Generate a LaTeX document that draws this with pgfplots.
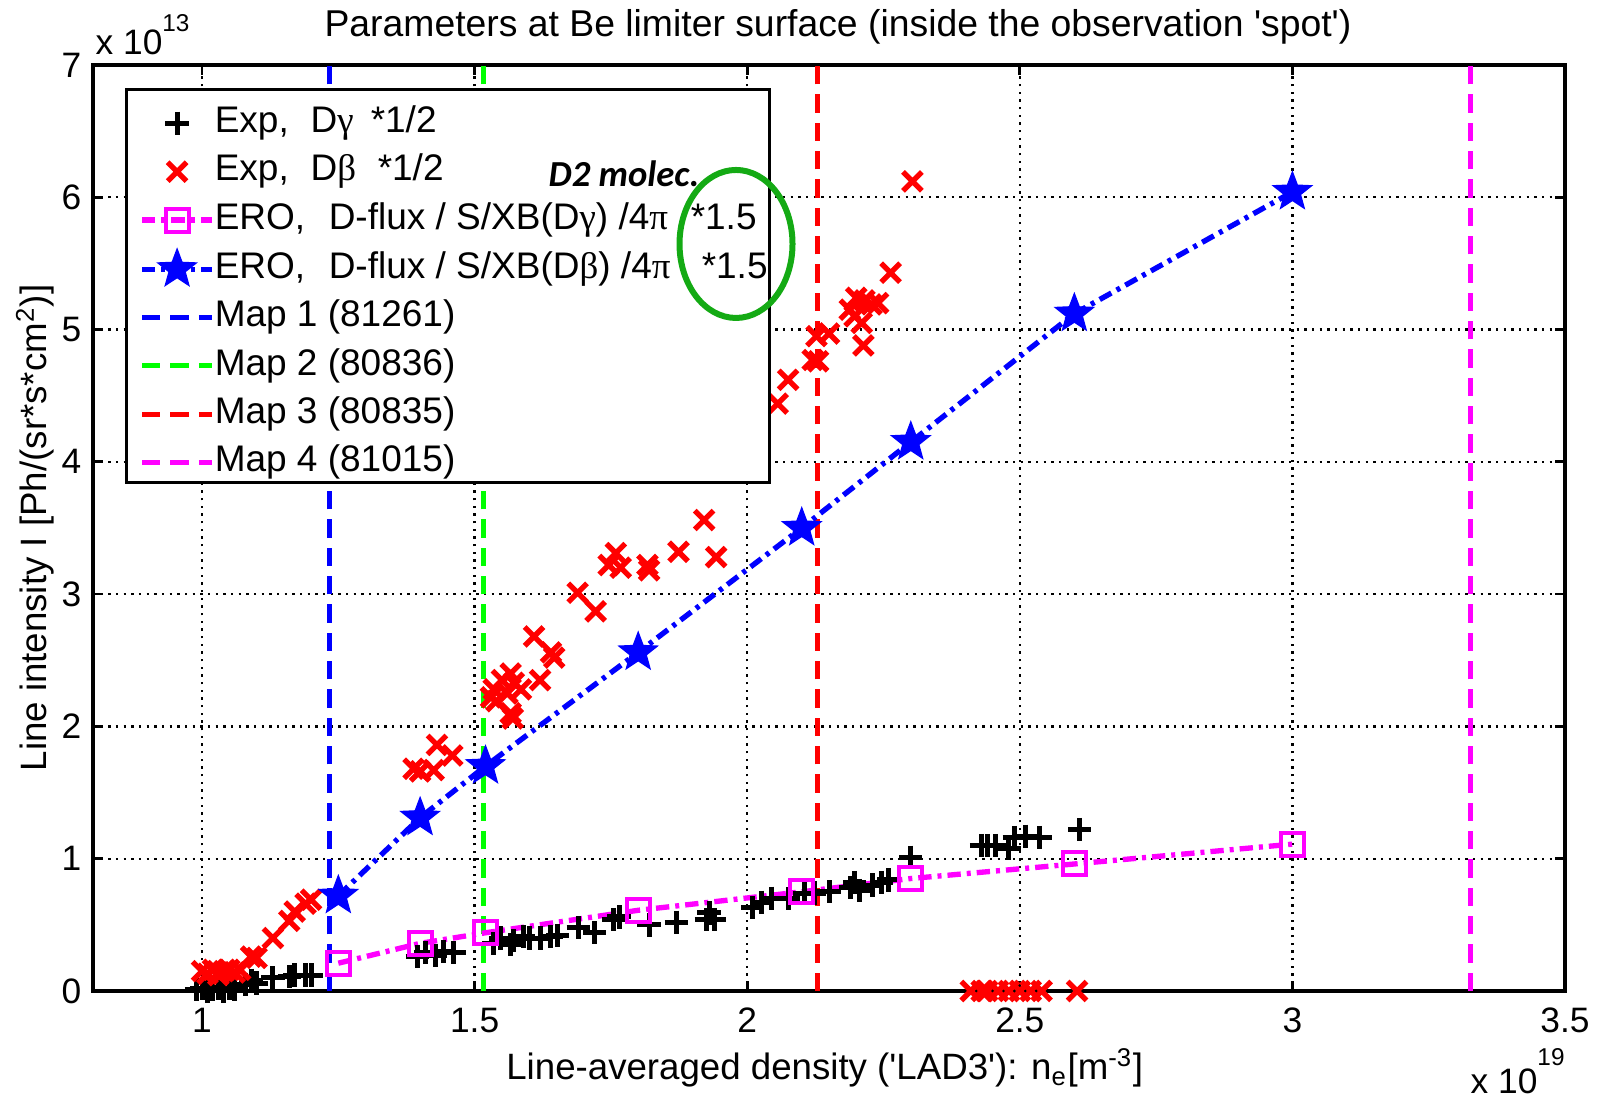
\documentclass[border=0pt]{standalone}
\usepackage{fontspec}
\setmainfont{Liberation Sans}
\newfontfamily\grk{Liberation Serif}
\newfontfamily\carl{Carlito}
\usepackage{pgfplots}
\pgfplotsset{compat=1.18}
\usepackage{pgfplotstable}
\usetikzlibrary{calc}

\definecolor{mapblue}{RGB}{0,0,255}
\definecolor{mapgreen}{RGB}{0,255,0}
\definecolor{mapred}{RGB}{255,0,0}
\definecolor{mapmag}{RGB}{255,0,255}
\definecolor{ringgreen}{RGB}{20,170,20}

% filled five-pointed star marker
\pgfdeclareplotmark{pentastar}{%
  \pgfpathmoveto{\pgfpointpolar{90}{\pgfplotmarksize}}%
  \pgfpathlineto{\pgfpointpolar{126}{0.42\pgfplotmarksize}}%
  \pgfpathlineto{\pgfpointpolar{162}{\pgfplotmarksize}}%
  \pgfpathlineto{\pgfpointpolar{198}{0.42\pgfplotmarksize}}%
  \pgfpathlineto{\pgfpointpolar{234}{\pgfplotmarksize}}%
  \pgfpathlineto{\pgfpointpolar{270}{0.42\pgfplotmarksize}}%
  \pgfpathlineto{\pgfpointpolar{306}{\pgfplotmarksize}}%
  \pgfpathlineto{\pgfpointpolar{342}{0.42\pgfplotmarksize}}%
  \pgfpathlineto{\pgfpointpolar{18}{\pgfplotmarksize}}%
  \pgfpathlineto{\pgfpointpolar{54}{0.42\pgfplotmarksize}}%
  \pgfpathclose
  \pgfusepathqfillstroke
}

% legend sample: short line with one centred marker
\pgfplotsset{
  shortimage/.style={legend image code/.code={%
    \draw[mark repeat=2, mark phase=2, ##1]
      plot coordinates {(0pt,0pt) (10.5pt,0pt) (21pt,0pt)};}},
  % same, with extra head room above the first legend row
  firstimage/.style={legend image code/.code={%
    \path (0pt,9.25pt);
    \draw[mark repeat=2, mark phase=2, ##1]
      plot coordinates {(0pt,0pt) (10.5pt,0pt) (21pt,0pt)};}},
}

% measured D-gamma intensity (x 1e19 m^-3, x 1e13)
\pgfplotstableread{
x y
0.99 0.01
1.00 0.02
1.01 0.00
1.02 0.01
1.02 0.03
1.03 0.02
1.04 0.00
1.04 0.01
1.05 0.02
1.06 0.01
1.08 0.05
1.09 0.08
1.10 0.06
1.13 0.10
1.16 0.11
1.17 0.12
1.19 0.12
1.20 0.12
1.395 0.26
1.41 0.29
1.428 0.27
1.443 0.30
1.462 0.29
1.535 0.36
1.548 0.40
1.566 0.35
1.572 0.38
1.59 0.41
1.60 0.40
1.62 0.40
1.64 0.41
1.652 0.42
1.69 0.48
1.72 0.44
1.755 0.54
1.765 0.56
1.82 0.50
1.87 0.52
1.925 0.54
1.94 0.54
1.93 0.59
2.01 0.63
2.026 0.67
2.044 0.70
2.075 0.70
2.105 0.74
2.123 0.74
2.15 0.75
2.19 0.78
2.197 0.82
2.206 0.76
2.23 0.80
2.246 0.82
2.26 0.84
2.30 1.01
2.43 1.10
2.44 1.10
2.455 1.10
2.48 1.08
2.49 1.16
2.51 1.17
2.537 1.16
2.61 1.22
}\expgamma

% measured D-beta intensity
\pgfplotstableread{
x y
1.00 0.15
1.01 0.13
1.02 0.16
1.03 0.12
1.03 0.14
1.04 0.15
1.05 0.16
1.06 0.14
1.07 0.16
1.09 0.26
1.10 0.25
1.13 0.40
1.16 0.53
1.17 0.60
1.19 0.66
1.20 0.69
1.388 1.68
1.40 1.66
1.425 1.67
1.431 1.86
1.459 1.78
1.53 2.22
1.535 2.28
1.54 2.19
1.55 2.35
1.56 2.25
1.566 2.40
1.566 2.10
1.57 2.06
1.572 2.33
1.585 2.28
1.62 2.35
1.609 2.68
1.64 2.56
1.646 2.52
1.689 3.01
1.722 2.87
1.746 3.22
1.759 3.31
1.768 3.20
1.817 3.22
1.82 3.18
1.874 3.32
1.921 3.56
1.943 3.28
2.056 4.44
2.075 4.62
2.12 4.77
2.13 4.76
2.127 4.95
2.15 4.97
2.188 5.15
2.197 5.10
2.20 5.24
2.21 5.05
2.213 4.88
2.215 5.22
2.228 5.19
2.24 5.20
2.263 5.43
2.303 6.12
2.41 0
2.43 0
2.44 0
2.46 0
2.48 0
2.50 0
2.52 0
2.54 0
2.605 0
}\expbeta

% ERO simulation, D-flux / S/XB
\pgfplotstableread{
x y
1.25 0.21
1.40 0.36
1.52 0.44
1.80 0.61
2.10 0.75
2.30 0.85
2.60 0.96
3.00 1.11
}\erogamma

\pgfplotstableread{
x y
1.25 0.72
1.40 1.31
1.52 1.70
1.80 2.56
2.10 3.50
2.30 4.15
2.60 5.12
3.00 6.04
}\erobeta

\tikzset{
  mapline/.style={line width=1.5pt, dash pattern=on 5.5pt off 3pt},
  dashdot/.style={line width=1.6pt, dash pattern=on 4pt off 1.8pt on 1.2pt off 1.8pt},
}

\begin{document}
\begin{tikzpicture}
\begin{axis}[
  name=ax,
  scale only axis,
  width=441.6pt, height=277.8pt,
  xmin=0.8, xmax=3.5, ymin=0, ymax=7,
  xtick={1,1.5,2,2.5,3,3.5},
  xticklabels={1,1.5,2,2.5,3,3.5},
  ytick={0,1,2,3,4,5,6,7},
  yticklabels={0,1,2,3,4,5,6,7},
  scaled ticks=false,
  tick align=inside,
  major tick length=3pt,
  tick style={black, line width=0.8pt},
  axis line style={black, line width=1.1pt},
  grid=major,
  major grid style={black, line width=0.7pt, dash pattern=on 0.7pt off 1.6pt},
  ticklabel style={font=\fontsize{10.6}{12}\selectfont},
  xticklabel style={yshift=-1.6pt},
  clip=false,
  shortimage,
  legend cell align=left,
  legend style={
    at={(0.0217,0.9755)}, anchor=north west,
    draw=black, line width=0.9pt, fill=white,
    font=\fontsize{11.1}{13}\selectfont,
    inner xsep=3.9pt, inner ysep=0.25pt,
    nodes={inner sep=0pt, text height=8.5pt, text depth=3pt},
    row sep=3pt,
    /tikz/column 2/.style={column sep=2.7pt},
  },
]
% shot markers
\addplot[mapblue, mapline, forget plot] coordinates {(1.233,0) (1.233,7)};
\addplot[mapgreen, mapline, forget plot] coordinates {(1.516,0) (1.516,7)};
\addplot[mapred, mapline, forget plot] coordinates {(2.128,0) (2.128,7)};
\addplot[mapmag, mapline, forget plot] coordinates {(3.327,0) (3.327,7)};

\addplot[only marks, mark=+, mark size=3.5pt, black, line width=1.5pt,
  firstimage] table {\expgamma};
\addlegendentry{\makebox[28.8pt][l]{Exp,}\makebox[18pt][l]{D{\grk γ}}*1/2}

\addplot[only marks, mark=x, mark size=4pt, mapred, line width=1.6pt] table {\expbeta};
\addlegendentry{\makebox[28.8pt][l]{Exp,}\makebox[20.1pt][l]{D{\grk β}}*1/2}

\addplot[mapmag, dashdot, mark=square, mark size=3.45pt,
  mark options={solid, line width=1.2pt}] table {\erogamma};
\addlegendentry{\makebox[34.2pt][l]{ERO,}\makebox[108.6pt][l]{D-flux / S/XB(D{\grk γ}) /4{\grk π}}*1.5}

\addplot[mapblue, dashdot, mark=pentastar, mark size=6pt,
  mark options={solid, fill=mapblue, line width=0.4pt}] table {\erobeta};
\addlegendentry{\makebox[34.2pt][l]{ERO,}\makebox[111.9pt][l]{D-flux / S/XB(D{\grk β}) /4{\grk π}}\makebox[16pt][l]{*1.5}}

\addlegendimage{mapblue, mapline}
\addlegendentry{Map 1 (81261)}
\addlegendimage{mapgreen, mapline}
\addlegendentry{Map 2 (80836)}
\addlegendimage{mapred, mapline}
\addlegendentry{Map 3 (80835)}
\addlegendimage{mapmag, mapline}
\addlegendentry{Map 4 (81015)}
\end{axis}

% title and axis labels
\node[anchor=base, font=\fontsize{11.2}{13}\selectfont]
  at ($(ax.south west)+(223.5pt,286.2pt)$)
  {Parameters at Be limiter surface (inside the observation \textquotesingle spot\textquotesingle)};
\node[anchor=base, font=\fontsize{11}{13}\selectfont]
  at ($(ax.south west)+(219.5pt,-26.7pt)$)
  {Line-averaged density (\textquotesingle LAD3\textquotesingle): n\textsubscript{e}[m\textsuperscript{-3}]};
\node[anchor=base, rotate=90, font=\fontsize{11}{13}\selectfont]
  at ($(ax.south west)+(-13.8pt,138.9pt)$)
  {Line intensity I [Ph/(sr*s*cm\textsuperscript{2})]};

% exponent labels
\node[anchor=base west, inner sep=0pt, font=\fontsize{10.6}{12}\selectfont]
  at ($(ax.south west)+(0.6pt,280.8pt)$)
  {x 10\raisebox{6.9pt}{\fontsize{7.3}{8}\selectfont 13}};
\node[anchor=base west, inner sep=0pt, font=\fontsize{10.6}{12}\selectfont]
  at ($(ax.south west)+(413.1pt,-30.8pt)$)
  {x 10\raisebox{8.5pt}{\fontsize{7.3}{8}\selectfont 19}};

% annotation with ring around the scaling factors
\node[font=\carl\bfseries\itshape\fontsize{11}{13}\selectfont]
  at ($(ax.south west)+(159.3pt,245.1pt)$) {D2 molec.};
\draw[ringgreen, line width=1.8pt]
  (ax.south west) ++(192.9pt,224.1pt) ellipse [x radius=16.95pt, y radius=22.2pt];

\pgfresetboundingbox
\path[use as bounding box]
  ($(ax.south west)+(-27.9pt,-32.1pt)$) rectangle ($(ax.north east)+(11.1pt,19.5pt)$);
\end{tikzpicture}
\end{document}
